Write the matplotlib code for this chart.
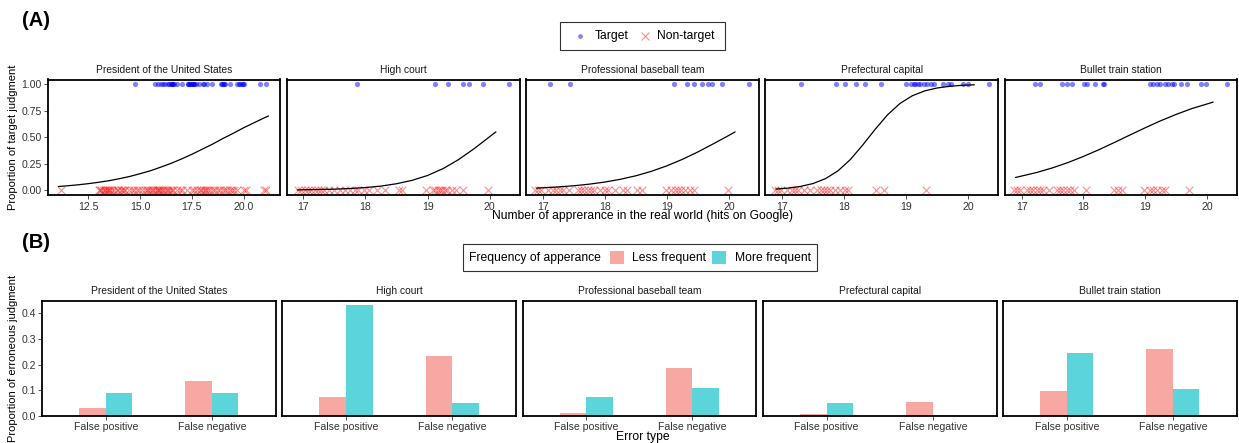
import matplotlib
matplotlib.use("Agg")
import matplotlib.pyplot as plt
from matplotlib.patches import Rectangle
from matplotlib.lines import Line2D

plt.rcParams['font.family'] = ['Liberation Sans', 'DejaVu Sans']

# ---------------- data ----------------
panels = ["President of the United States", "High court", "Professional baseball team",
          "Prefectural capital", "Bullet train station"]

# (A) hits on Google (log scale) for target (y=1) and non-target (y=0) items
p1_target = [14.75, 15.70, 15.85, 15.99, 16.10, 16.19, 16.34, 16.40, 16.47, 16.52, 16.55, 16.60,
             16.63, 16.80, 17.04, 17.29, 17.33, 17.37, 17.41, 17.45, 17.50, 17.53, 17.58, 17.61,
             17.70, 17.86, 18.02, 18.10, 18.22, 18.48, 18.92, 18.95, 19.00, 19.05, 19.08, 19.36,
             19.66, 19.75, 19.82, 19.90, 19.95, 20.00, 20.80, 21.08]
p1_nontarget = [11.19, 13.00, 13.06, 13.12, 13.20, 13.28, 13.31, 13.38, 13.45, 13.50, 13.56, 13.63,
                13.75, 13.87, 13.95, 14.05, 14.11, 14.20, 14.27, 14.45, 14.59, 14.70, 14.83, 14.95,
                15.07, 15.25, 15.32, 15.40, 15.48, 15.56, 15.62, 15.70, 15.80, 15.85, 15.90, 15.95,
                16.04, 16.10, 16.18, 16.28, 16.35, 16.45, 16.52, 16.60, 16.76, 16.90, 17.00, 17.25,
                17.49, 17.60, 17.75, 17.89, 17.95, 18.05, 18.13, 18.20, 18.30, 18.37, 18.50, 18.61,
                18.75, 18.85, 19.00, 19.09, 19.20, 19.33, 19.45, 19.55, 19.66, 20.02, 20.12, 21.00,
                21.08]
p2_target = [17.87, 19.12, 19.33, 19.57, 19.66, 19.89, 20.31]
p2_nontarget = [16.91, 16.96, 17.02, 17.07, 17.12, 17.18, 17.23, 17.28, 17.34, 17.42, 17.50, 17.59,
                17.67, 17.75, 17.83, 17.88, 17.97, 18.05, 18.18, 18.32, 18.54, 18.59, 18.97, 19.08,
                19.12, 19.16, 19.20, 19.24, 19.28, 19.32, 19.40, 19.46, 19.57, 19.97]
p3_target = [17.12, 17.44, 19.12, 19.33, 19.43, 19.57, 19.67, 19.72, 19.89, 20.32]
p3_nontarget = [16.87, 16.92, 16.97, 17.08, 17.16, 17.22, 17.27, 17.32, 17.43, 17.57, 17.62, 17.67,
                17.73, 17.78, 17.83, 17.92, 18.01, 18.05, 18.17, 18.30, 18.35, 18.52, 18.60, 18.99,
                19.07, 19.13, 19.18, 19.23, 19.29, 19.37, 19.43, 19.98]
p4_target = [17.30, 17.87, 18.01, 18.19, 18.34, 18.60, 19.00, 19.07, 19.12, 19.15, 19.19, 19.23,
             19.29, 19.34, 19.40, 19.45, 19.59, 19.68, 19.73, 19.91, 19.99, 20.34]
p4_nontarget = [16.89, 16.94, 16.99, 17.08, 17.16, 17.21, 17.26, 17.35, 17.45, 17.56, 17.62, 17.67,
                17.72, 17.78, 17.86, 17.94, 18.02, 18.07, 18.51, 18.64, 19.32]
p5_target = [17.22, 17.30, 17.66, 17.74, 17.81, 18.01, 18.06, 18.19, 18.31, 18.34, 19.08, 19.13,
             19.19, 19.24, 19.32, 19.37, 19.43, 19.46, 19.58, 19.67, 19.90, 19.98, 20.32]
p5_nontarget = [16.87, 16.92, 16.97, 17.08, 17.13, 17.19, 17.24, 17.30, 17.35, 17.45, 17.57, 17.62,
                17.67, 17.73, 17.78, 17.84, 18.04, 18.49, 18.56, 18.62, 18.98, 19.08, 19.13, 19.19,
                19.27, 19.32, 19.71]

# fitted curves
c1_x = [11.05, 11.5, 12.0, 12.5, 13.0, 13.5, 14.0, 14.5, 15.0, 15.5, 16.0, 16.5, 17.0, 17.5,
        18.0, 18.5, 19.0, 19.5, 20.0, 20.5, 21.0, 21.2]
c1_y = [0.035, 0.042, 0.051, 0.062, 0.075, 0.090, 0.109, 0.130, 0.156, 0.184, 0.218, 0.254,
        0.295, 0.339, 0.387, 0.435, 0.488, 0.537, 0.589, 0.636, 0.683, 0.700]
c2_x = [16.9, 17.2, 17.5, 17.75, 18.0, 18.25, 18.5, 18.75, 19.0, 19.25, 19.5, 19.75, 20.0, 20.1]
c2_y = [0.003, 0.006, 0.010, 0.016, 0.025, 0.039, 0.061, 0.093, 0.139, 0.204, 0.289, 0.392,
        0.505, 0.550]
c3_x = [16.9, 17.2, 17.5, 17.75, 18.0, 18.25, 18.5, 18.75, 19.0, 19.25, 19.5, 19.75, 20.0, 20.1]
c3_y = [0.020, 0.029, 0.042, 0.057, 0.077, 0.103, 0.136, 0.178, 0.230, 0.291, 0.361, 0.438,
        0.517, 0.550]
c4_x = [16.9, 17.1, 17.3, 17.5, 17.7, 17.9, 18.1, 18.3, 18.5, 18.7, 18.9, 19.1, 19.3, 19.5,
        19.7, 19.9, 20.1]
c4_y = [0.011, 0.020, 0.036, 0.063, 0.109, 0.182, 0.289, 0.426, 0.574, 0.711, 0.818, 0.891,
        0.937, 0.964, 0.980, 0.989, 0.994]
c5_x = [16.9, 17.25, 17.5, 17.75, 18.0, 18.25, 18.5, 18.75, 19.0, 19.25, 19.5, 19.75, 20.1]
c5_y = [0.120, 0.168, 0.211, 0.261, 0.319, 0.382, 0.450, 0.520, 0.589, 0.655, 0.715, 0.769,
        0.831]

targets = [p1_target, p2_target, p3_target, p4_target, p5_target]
nontargets = [p1_nontarget, p2_nontarget, p3_nontarget, p4_nontarget, p5_nontarget]
curves_x = [c1_x, c2_x, c3_x, c4_x, c5_x]
curves_y = [c1_y, c2_y, c3_y, c4_y, c5_y]

# (B) proportion of erroneous judgments
error_types = ["False positive", "False negative"]
less_frequent = [[0.032, 0.138], [0.075, 0.234], [0.012, 0.187], [0.007, 0.055], [0.097, 0.262]]
more_frequent = [[0.090, 0.090], [0.432, 0.049], [0.073, 0.109], [0.049, 0.005], [0.245, 0.104]]

a_yticks = [0.0, 0.25, 0.5, 0.75, 1.0]
a_yticklabels = ["0.00", "0.25", "0.50", "0.75", "1.00"]
p1_xticks = [12.5, 15.0, 17.5, 20.0]
p1_xticklabels = ["12.5", "15.0", "17.5", "20.0"]
px_xticks = [17, 18, 19, 20]
b_yticks = [0.0, 0.1, 0.2, 0.3, 0.4]
b_yticklabels = ["0.0", "0.1", "0.2", "0.3", "0.4"]

# ---------------- layout ----------------
W, H = 1239, 443
fig = plt.figure(figsize=(W / 100, H / 100), dpi=100)

def rect(x0, x1, y0, y1):
    return [x0 / W, 1 - y1 / H, (x1 - x0) / W, (y1 - y0) / H]

def fx(px):
    return px / W

def fy(py):
    return 1 - py / H

A_X = [(48.3, 279.9), (286.6, 519.5), (526.0, 758.7), (765.3, 998.0), (1005.0, 1236.7)]
A_Y = (79.5, 195.2)
B_X = [(42.3, 275.6), (282.3, 516.0), (522.7, 756.0), (763.0, 996.5), (1003.4, 1236.5)]
B_Y = (300.7, 416.0)

TICK_COL = '#333333'
TICK_FS = 7.6
STRIP_FS = 7.4
TITLE_FS = 8.7
BLUE = '#0000ff'
RED = '#ff0000'
PINK = '#F8A8A2'
CYAN = '#5BD5DA'

def style(ax, first):
    for s in ax.spines.values():
        s.set_linewidth(1.3)
        s.set_color('black')
    ax.tick_params(direction='out', length=2.6, width=0.6, color=TICK_COL,
                   labelsize=TICK_FS, labelcolor=TICK_COL, pad=2)
    if not first:
        ax.tick_params(left=False, labelleft=False)

# ---- (A) ----
for i in range(5):
    ax = fig.add_axes(rect(A_X[i][0], A_X[i][1], A_Y[0], A_Y[1]))
    ax.scatter(nontargets[i], [0] * len(nontargets[i]), marker='x', s=30, color=RED,
               alpha=0.45, linewidths=0.8, zorder=2)
    ax.scatter(targets[i], [1] * len(targets[i]), marker='o', s=14, color=BLUE,
               alpha=0.5, linewidths=0, zorder=2)
    ax.plot(curves_x[i], curves_y[i], color='black', lw=0.9, zorder=3,
            solid_joinstyle='round', solid_capstyle='round')
    ax.set_ylim(-0.047, 1.044)
    ax.set_yticks(a_yticks)
    ax.set_yticklabels(a_yticklabels)
    if i == 0:
        ax.set_xlim(10.56, 21.75)
        ax.set_xticks(p1_xticks)
        ax.set_xticklabels(p1_xticklabels)
    else:
        ax.set_xlim(16.73, 20.48)
        ax.set_xticks(px_xticks)
        ax.set_xticklabels([str(t) for t in px_xticks])
    style(ax, i == 0)
    ax.annotate(panels[i], xy=(0.5, 1), xycoords='axes fraction', xytext=(0, 9.5),
                textcoords='offset pixels', ha='center', va='center', fontsize=STRIP_FS,
                color='#1a1a1a')

# ---- (B) ----
for i in range(5):
    ax = fig.add_axes(rect(B_X[i][0], B_X[i][1], B_Y[0], B_Y[1]))
    xs = [1, 2]
    ax.bar([x - 0.125 for x in xs], less_frequent[i], width=0.25, color=PINK, zorder=2)
    ax.bar([x + 0.125 for x in xs], more_frequent[i], width=0.25, color=CYAN, zorder=2)
    ax.set_xlim(0.4, 2.6)
    ax.set_ylim(0, 0.449)
    ax.set_xticks(xs)
    ax.set_xticklabels(error_types)
    ax.set_yticks(b_yticks)
    ax.set_yticklabels(b_yticklabels)
    style(ax, i == 0)
    ax.annotate(panels[i], xy=(0.5, 1), xycoords='axes fraction', xytext=(0, 10),
                textcoords='offset pixels', ha='center', va='center', fontsize=STRIP_FS,
                color='#1a1a1a')

# ---- panel letters and axis titles ----
fig.text(fx(22), fy(21), "(A)", fontsize=14.5, fontweight='bold', ha='left', va='center')
fig.text(fx(22), fy(242), "(B)", fontsize=14.5, fontweight='bold', ha='left', va='center')
fig.text(fx(643), fy(216), "Number of apprerance in the real world (hits on Google)",
         fontsize=TITLE_FS, ha='center', va='center')
fig.text(fx(13), fy(137.5), "Proportion of target judgment", fontsize=TITLE_FS * 0.92,
         rotation=90, ha='center', va='center')
fig.text(fx(643), fy(437), "Error type", fontsize=TITLE_FS, ha='center', va='center')
fig.text(fx(13), fy(358), "Proportion of erroneous judgment", fontsize=TITLE_FS * 0.92,
         rotation=90, ha='center', va='center')

# ---- legend (A) ----
fig.add_artist(Rectangle((fx(560), fy(50)), fx(725) - fx(560), fy(22) - fy(50),
                         transform=fig.transFigure, fill=False, edgecolor='#333333', lw=0.8))
fig.add_artist(Line2D([fx(580)], [fy(36)], transform=fig.transFigure, marker='o', ms=3.4,
                      color=BLUE, alpha=0.5, markeredgewidth=0, linestyle='none'))
fig.text(fx(595), fy(36), "Target", fontsize=TITLE_FS, ha='left', va='center')
fig.add_artist(Line2D([fx(645)], [fy(36)], transform=fig.transFigure, marker='x', ms=5.5,
                      color=RED, alpha=0.45, markeredgewidth=0.8, linestyle='none'))
fig.text(fx(657), fy(36), "Non-target", fontsize=TITLE_FS, ha='left', va='center')

# ---- legend (B) ----
fig.add_artist(Rectangle((fx(463), fy(271)), fx(817) - fx(463), fy(244) - fy(271),
                         transform=fig.transFigure, fill=False, edgecolor='#333333', lw=0.8))
fig.text(fx(469), fy(257.5), "Frequency of apperance", fontsize=TITLE_FS, ha='left', va='center')
fig.add_artist(Rectangle((fx(610), fy(264)), fx(624) - fx(610), fy(251) - fy(264),
                         transform=fig.transFigure, color=PINK, lw=0))
fig.text(fx(631.5), fy(257.5), "Less frequent", fontsize=TITLE_FS, ha='left', va='center')
fig.add_artist(Rectangle((fx(712), fy(264)), fx(726) - fx(712), fy(251) - fy(264),
                         transform=fig.transFigure, color=CYAN, lw=0))
fig.text(fx(735), fy(257.5), "More frequent", fontsize=TITLE_FS, ha='left', va='center')

fig.savefig("out.png", dpi=100)
